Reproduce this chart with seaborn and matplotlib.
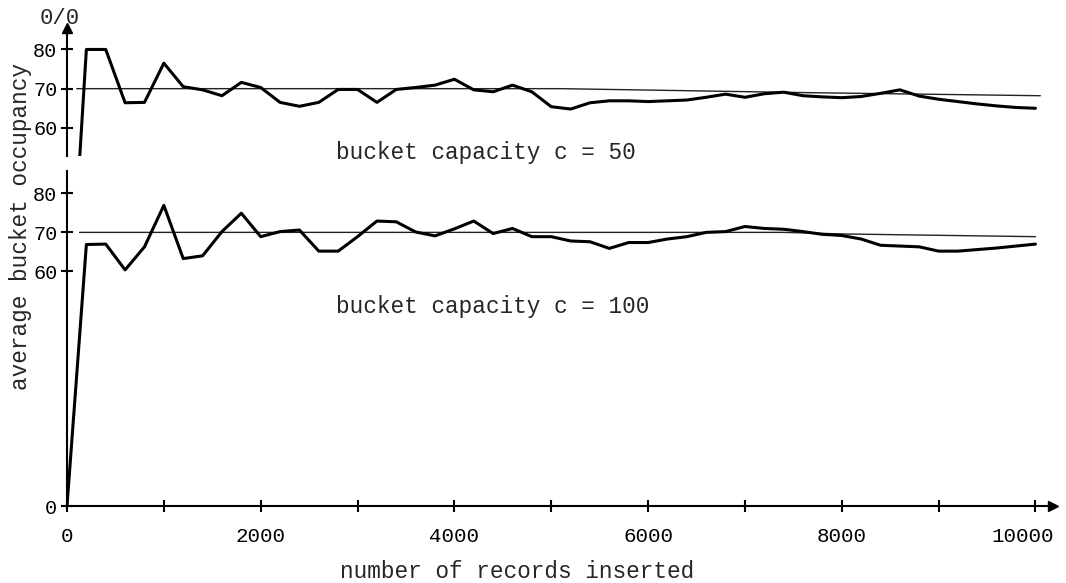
import numpy as np
import pandas as pd
import matplotlib
matplotlib.use("Agg")
import matplotlib.pyplot as plt
import matplotlib.transforms as mtransforms
import seaborn as sns

# ---------------- data ----------------
records = np.arange(0, 10001, 200)

occupancy_c50 = [0, 80, 80, 66.4, 66.5, 76.5, 70.5, 69.7, 68.2, 71.6, 70.3,
                 66.5, 65.5, 66.5, 69.8, 69.8, 66.5, 69.8, 70.3, 70.9, 72.4,
                 69.7, 69.2, 70.9, 69.2, 65.4, 64.8, 66.4, 66.9, 66.9, 66.7,
                 66.9, 67.1, 67.8, 68.6, 67.8, 68.7, 69.1, 68.2, 67.9, 67.7,
                 68.0, 68.8, 69.7, 68.1, 67.3, 66.7, 66.1, 65.6, 65.2, 65.0]

occupancy_c100 = [0, 66.9, 67.0, 60.4, 66.3, 76.9, 63.3, 64.0, 70.2, 74.9, 68.9,
                  70.2, 70.6, 65.2, 65.2, 68.9, 72.9, 72.7, 70.1, 69.1, 70.9,
                  72.9, 69.7, 71.0, 68.9, 68.9, 67.8, 67.6, 65.9, 67.4, 67.4,
                  68.3, 68.9, 70.0, 70.2, 71.5, 71.0, 70.8, 70.2, 69.5, 69.2,
                  68.3, 66.7, 66.5, 66.3, 65.2, 65.2, 65.6, 66.0, 66.5, 67.0]

ref_c50_x = [100, 5100, 7600, 10050]
ref_c50_y = [70.0, 70.0, 69.0, 68.2]
ref_c100_x = [130, 7400, 8000, 10000]
ref_c100_y = [70.0, 70.0, 69.6, 68.9]

x_ticks = list(range(0, 10001, 1000))
x_tick_labels = [str(t) if t % 2000 == 0 else "" for t in x_ticks]
y_ticks_upper = [60, 70, 80]
y_ticks_lower = [0, 60, 70, 80]
y_tick_labels_lower = ["0", "60", "70", "80"]

label_c50 = "bucket capacity c = 50"
label_c100 = "bucket capacity c = 100"
x_label = "number of records inserted"
y_label = "average bucket occupancy"
unit_label = "0/0"

# ---------------- style ----------------
sns.set_style("ticks")
plt.rcParams["font.family"] = ["Liberation Mono", "DejaVu Sans"]
plt.rcParams["axes.linewidth"] = 1.5

W, H = 1066, 583
fig = plt.figure(figsize=(W / 100, H / 100), dpi=100, facecolor="white")


def rect(left, top, right, bottom):
    return [left / W, 1 - bottom / H, (right - left) / W, (bottom - top) / H]


ax_low = fig.add_axes(rect(67, 171, 1053, 506))
ax_up = fig.add_axes(rect(67, 27.5, 1053, 155.7))

df50 = pd.DataFrame({"records": records, "occ": occupancy_c50})
df100 = pd.DataFrame({"records": records, "occ": occupancy_c100})

for ax, df, rx, ry in [(ax_up, df50, ref_c50_x, ref_c50_y),
                       (ax_low, df100, ref_c100_x, ref_c100_y)]:
    sns.lineplot(x=rx, y=ry, ax=ax, color="#222222", linewidth=1.0,
                 estimator=None, sort=False, legend=False)
    sns.lineplot(data=df, x="records", y="occ", ax=ax, color="black",
                 linewidth=2.2, estimator=None, sort=False, legend=False)
    ax.set_xlim(0, 10181)
    ax.set_xlabel("")
    ax.set_ylabel("")
    ax.set_facecolor("white")
    for s in ["top", "right"]:
        ax.spines[s].set_visible(False)
    ax.spines["left"].set_color("black")

# upper panel
ax_up.set_ylim(52.9, 85.6)
ax_up.spines["bottom"].set_visible(False)
ax_up.set_xticks([])
ax_up.set_yticks(y_ticks_upper)
ax_up.set_yticklabels([str(v) for v in y_ticks_upper])
ax_up.tick_params(axis="y", direction="inout", length=8, width=1.5,
                  labelsize=14.5, pad=3, colors="black")
ax_up.plot(0, 1, marker="^", markersize=7, color="black",
           transform=ax_up.transAxes, clip_on=False)

# lower panel
ax_low.set_ylim(0, 85.7)
ax_low.spines["bottom"].set_color("black")
ax_low.set_yticks(y_ticks_lower)
ax_low.set_yticklabels(y_tick_labels_lower)
ax_low.set_xticks(x_ticks)
ax_low.set_xticklabels(x_tick_labels)
ax_low.tick_params(axis="y", direction="inout", length=8, width=1.5,
                   labelsize=14.5, pad=3, colors="black")
ax_low.tick_params(axis="x", direction="inout", length=8, width=1.5,
                   labelsize=15, pad=11, colors="black")
ax_low.plot(1, 0, marker=">", markersize=7, color="black",
            transform=ax_low.transAxes, clip_on=False)

# the last x label sits a little left of its tick in the reference
xlabels = ax_low.get_xticklabels()
shift = mtransforms.ScaledTranslation(-0.13, 0, fig.dpi_scale_trans)
xlabels[-1].set_transform(xlabels[-1].get_transform() + shift)

# texts
fig.text(336 / W, 1 - 153 / H, label_c50, ha="left", va="center", fontsize=16.4)
fig.text(336 / W, 1 - 306 / H, label_c100, ha="left", va="center", fontsize=16.4)
fig.text(517 / W, 1 - 572 / H, x_label, ha="center", va="center", fontsize=16.4)
fig.text(21 / W, 1 - 226 / H, y_label, ha="center", va="center",
         rotation=90, fontsize=16.4)
fig.text(60 / W, 1 - 18 / H, unit_label, ha="center", va="center", fontsize=16)

fig.savefig("out.png", dpi=100, facecolor="white")
